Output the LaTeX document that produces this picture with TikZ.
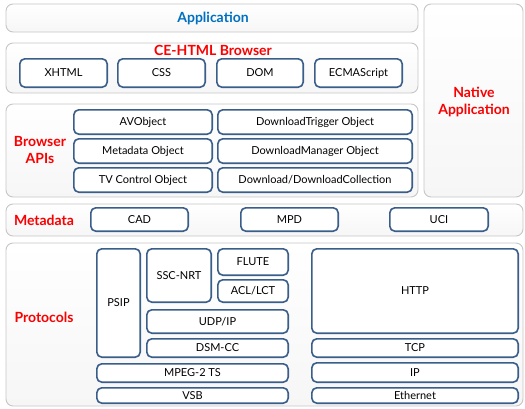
\documentclass[tikz,border=0pt]{standalone}
\usepackage{fontspec}
\setmainfont{Lato}
\usetikzlibrary{positioning}
\definecolor{boxblue}{RGB}{58,94,138}
\definecolor{appblue}{RGB}{0,112,192}
\definecolor{titlered}{RGB}{250,0,0}
\tikzset{
  layer/.style={draw=gray!45, rounded corners=7pt, top color=white, bottom color=gray!7,
                line width=0.9pt, inner sep=0pt},
  inbox/.style={draw=boxblue, rounded corners=5pt, line width=1.6pt, fill=white,
                inner sep=0pt, font=\fontsize{11}{13}\selectfont},
  ttl/.style={font=\fontsize{14}{16.5}\selectfont\bfseries, text=titlered, align=center}
}

\begin{document}
\begin{tikzpicture}[x=1pt,y=-1pt]
  \useasboundingbox (0,0) rectangle (525,408);
  % corner coordinates in pixels, y going down
  \def\lay#1#2#3#4#5{%
    \node[layer, minimum width={#4-#2}, minimum height={#5-#3}]
      (#1) at ({(#2+#4)/2},{(#3+#5)/2}) {};
  }
  \def\blk#1#2#3#4#5#6{%
    \node[inbox, minimum width={#4-#2-1.6}, minimum height={#5-#3-1.6}]
      (#1) at ({(#2+#4)/2},{(#3+#5)/2}) {#6};
  }
  % layers
  \lay{app}{6}{4}{418}{32}
  \lay{ce}{6}{43}{418}{93}
  \lay{native}{424}{4}{523}{197}
  \lay{apis}{6}{104}{418}{197}
  \lay{meta}{6}{204}{523}{236}
  \lay{proto}{6}{243}{523}{406}

  \node[ttl, text=appblue] (apptitle) at (213,18) {Application};
  \node[ttl] (cetitle) at (213,50) {CE-HTML Browser};
  \node[ttl] (nattitle) at (474,102) {Native\\Application};
  \node[ttl] (apititle) at (40,150) {Browser\\APIs};
  \node[ttl] (metatitle) at (44,220) {Metadata};
  \node[ttl] (prototitle) at (44,317) {Protocols};

  % CE-HTML browser
  \blk{xhtml}{19}{58}{108}{88}{XHTML}
  \blk{css}{117}{58}{206}{88}{CSS}
  \blk{dom}{216}{58}{304}{88}{DOM}
  \blk{ecma}{314}{58}{403}{88}{ECMAScript}

  % browser APIs
  \blk{avobj}{73}{109}{213}{135}{AVObject}
  \blk{metaobj}{73}{138}{213}{164}{Metadata Object}
  \blk{tvobj}{73}{167}{213}{193}{TV Control Object}
  \blk{dltrig}{217}{109}{413}{135}{DownloadTrigger Object}
  \blk{dlman}{217}{138}{413}{164}{DownloadManager Object}
  \blk{dlcoll}{217}{167}{413}{193}{Download/DownloadCollection}

  % metadata
  \blk{cad}{90}{207}{189}{232}{CAD}
  \blk{mpd}{240}{207}{339}{232}{MPD}
  \blk{uci}{389}{207}{489}{232}{UCI}

  % protocols
  \blk{psip}{96}{248}{141}{358}{PSIP}
  \blk{sscnrt}{146}{248}{212}{303}{SSC-NRT}
  \blk{flute}{217}{248}{289}{276}{FLUTE}
  \blk{acl}{217}{279}{289}{303}{ACL/LCT}
  \blk{udp}{146}{309}{289}{334}{UDP/IP}
  \blk{dsmcc}{146}{338}{289}{358}{DSM-CC}
  \blk{mpeg}{96}{363}{289}{383}{MPEG-2 TS}
  \blk{vsb}{96}{387}{289}{404}{VSB}
  \blk{http}{311}{248}{519}{334}{HTTP}
  \blk{tcp}{311}{338}{519}{358}{TCP}
  \blk{ip}{311}{362}{519}{383}{IP}
  \blk{eth}{311}{387}{519}{404}{Ethernet}
\end{tikzpicture}
\end{document}
